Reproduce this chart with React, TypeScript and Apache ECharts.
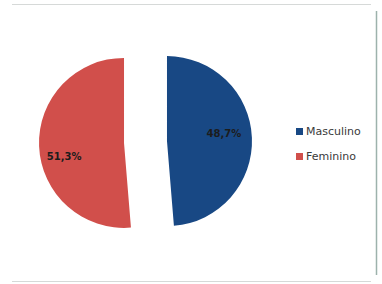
import React, { useEffect, useRef } from "react";
import * as echarts from "echarts";

const categories = ["Masculino", "Feminino"];
const values = [48.7, 51.3];
const colors = ["#184884", "#D14F4B"];
const labelPaddings: number[][] = [[0, 0, 0, 23], [0, 29, 0, 0]];
const linesBefore = [0, 2];
const linesAfter = [1, 0];

export default function App() {
  const ref = useRef<HTMLDivElement>(null);
  useEffect(() => {
    if (!ref.current) return;
    const chart = echarts.init(ref.current, undefined, { renderer: "svg" });
    chart.setOption({
      animation: false,
      backgroundColor: "#ffffff",
      legend: {
        orient: "vertical",
        left: 291,
        top: 121,
        itemWidth: 7,
        itemHeight: 7,
        itemGap: 14,
        icon: "rect",
        selectedMode: false,
        textStyle: {
          fontFamily: "DejaVu Sans",
          fontSize: 11,
          color: "#3a3a3a",
          padding: [0, 0, 0, -2],
        },
        data: categories,
      },
      graphic: [
        { type: "line", shape: { x1: 12, y1: 4.5, x2: 371, y2: 4.5 }, style: { stroke: "#d6d9d8", lineWidth: 1 } },
        { type: "line", shape: { x1: 12, y1: 281.5, x2: 371, y2: 281.5 }, style: { stroke: "#d6d9d8", lineWidth: 1 } },
        { type: "line", shape: { x1: 376.5, y1: 11, x2: 376.5, y2: 275 }, style: { stroke: "#9db2ac", lineWidth: 1.5 } },
      ],
      series: [
        {
          type: "pie",
          center: [145.5, 142],
          radius: [0, 85],
          startAngle: 90,
          clockwise: true,
          selectedMode: "multiple",
          selectedOffset: 21.5,
          silent: true,
          label: {
            show: true,
            position: "inside",
            fontFamily: "DejaVu Sans",
            fontWeight: "bold",
            fontSize: 10,
            lineHeight: 12,
            color: "#1c1c1c",
            formatter: (p: any) =>
              "\n".repeat(linesBefore[p.dataIndex]) +
              p.value.toFixed(1).replace(".", ",") + "%" +
              "\n ".repeat(linesAfter[p.dataIndex]),
          },
          labelLine: { show: false },
          itemStyle: { borderWidth: 0 },
          select: { itemStyle: { borderWidth: 0 }, label: { color: "#1c1c1c" } },
          emphasis: { disabled: true },
          data: categories.map((name, i) => ({
            name,
            value: values[i],
            selected: true,
            itemStyle: { color: colors[i] },
            label: { padding: labelPaddings[i] },
          })),
        },
      ],
    });
    return () => chart.dispose();
  }, []);
  return (
    <div
      ref={ref}
      style={{ position: "fixed", left: 0, top: 0, width: 382, height: 284 }}
    />
  );
}
